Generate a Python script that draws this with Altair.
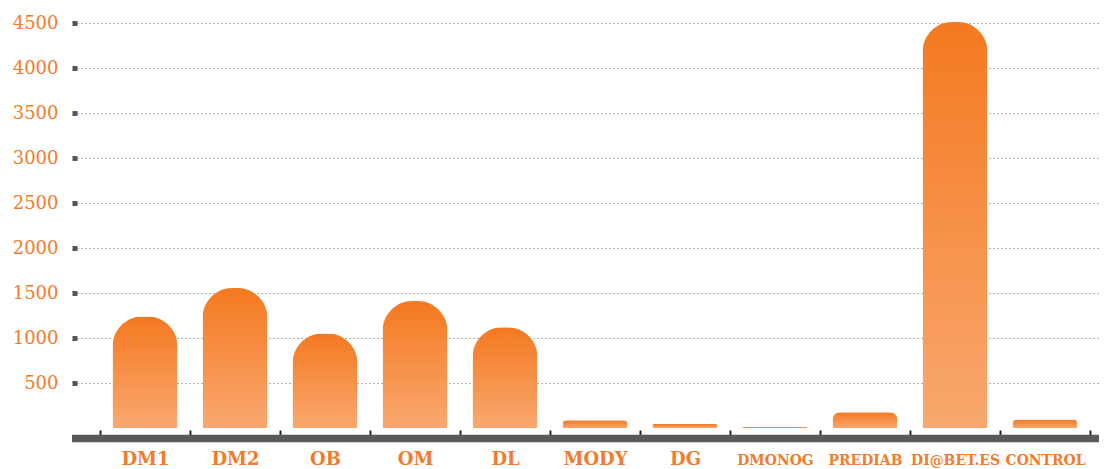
import altair as alt
import pandas as pd

categories = ["DM1", "DM2", "OB", "OM", "DL", "MODY", "DG", "DMONOG", "PREDIAB", "DI@BET.ES", "CONTROL"]
values = [1240, 1555, 1050, 1410, 1120, 85, 45, 10, 175, 4510, 95]
y_ticks = [500, 1000, 1500, 2000, 2500, 3000, 3500, 4000, 4500]

df = pd.DataFrame({"cat": categories, "value": values})

ORANGE = "#F47B2B"
W, H = 1022, 405

grad = alt.Gradient(
    gradient="linear",
    stops=[alt.GradientStop(color="#F47920", offset=0),
           alt.GradientStop(color="#F9A86F", offset=1)],
    x1=0, x2=0, y1=0, y2=1,
)

bars = alt.Chart(df).mark_bar(
    color=grad,
    width=alt.RelativeBandSize(0.722),
    cornerRadiusTopLeft=30,
    cornerRadiusTopRight=30,
).encode(
    x=alt.X(
        "cat:N", sort=categories,
        scale=alt.Scale(paddingInner=0, paddingOuter=0.1778, align=0.719),
        axis=alt.Axis(
            title=None, domain=False, tickBand="extent", offset=2,
            tickSize=5, tickWidth=2, tickColor="#222222",
            labelAngle=0, labelColor=ORANGE,
            labelFont={"condition": {"test": "length(datum.label) > 5",
                                     "value": "DejaVu Serif Condensed, Liberation Serif"},
                       "value": "DejaVu Serif"},
            labelFontWeight="bold",
            labelFontSize={"condition": {"test": "length(datum.label) > 5", "value": 15.5}, "value": 18},
            labelBaseline="middle", labelPadding=24,
        ),
    ),
    y=alt.Y(
        "value:Q",
        scale=alt.Scale(domain=[0, 4500], nice=False),
        axis=alt.Axis(
            title=None, values=y_ticks, format="d", domain=False,
            tickSize=5, tickWidth=5, tickColor="#555555",
            grid=True, gridDash=[1.5, 2.5], gridColor="#999999", gridWidth=1,
            labelColor=ORANGE, labelFont="DejaVu Serif", labelFontSize=18,
            labelPadding=14,
        ),
    ),
)

base_line = alt.Chart(pd.DataFrame({"a": [0]})).mark_rule(
    color="#58595B", strokeWidth=7.5
).encode(x=alt.value(-5), x2=alt.value(W), y=alt.value(415.5))

chart = alt.layer(bars, base_line).properties(
    width=W, height=H,
    padding={"left": 69, "top": 15, "right": 0, "bottom": 41},
    autosize=alt.AutoSizeParams(type="none"),
).configure_view(stroke=None)

chart.save("out.html", embed_options={"renderer": "svg", "actions": False})
